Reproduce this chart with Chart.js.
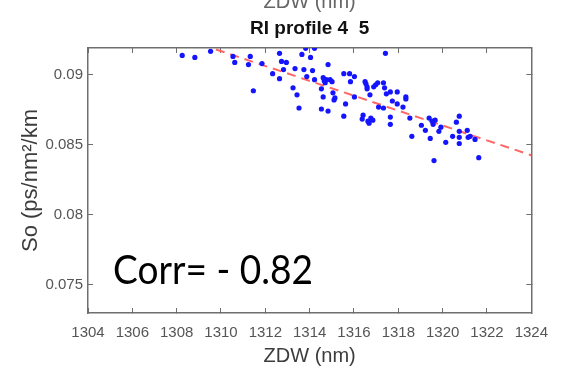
<!DOCTYPE html>
<html lang="en">
<head>
    <meta charset="UTF-8">
    <title>RI profile 4 5</title>
    <script src="https://cdn.jsdelivr.net/npm/chart.js@4.4.1/dist/chart.umd.min.js"></script>
    <style>
        body {
            margin: 0;
            background: #ffffff;
        }
        .chart-box {
            position: relative;
            width: 564px;
            height: 376px;
        }
    </style>
</head>
<body>
    <div class="chart-box">
        <canvas id="soPlot"></canvas>
    </div>

    <script>
        // measured points: zero dispersion wavelength (nm) vs dispersion slope
        const zdwValues = [
            1308.25, 1308.82, 1309.53, 1310.54, 1310.62, 1311.24, 1311.32, 1311.46, 1311.85, 1312.33,
            1312.64, 1312.64, 1312.73, 1312.82, 1312.95, 1313.25, 1313.34, 1313.43, 1313.52, 1313.65,
            1313.74, 1313.82, 1313.87, 1314.04, 1314.13, 1314.22, 1314.22, 1314.53, 1314.53, 1314.61,
            1314.61, 1314.66, 1314.70, 1314.75, 1314.83, 1314.83, 1314.92, 1315.01, 1315.05, 1315.10,
            1315.14, 1315.54, 1315.54, 1315.62, 1315.80, 1315.84, 1316.02, 1316.02, 1316.37, 1316.41,
            1316.50, 1316.54, 1316.59, 1316.59, 1316.63, 1316.68, 1316.72, 1316.76, 1316.85, 1316.89,
            1316.98, 1317.07, 1317.11, 1317.33, 1317.33, 1317.42, 1317.38, 1317.46, 1317.64, 1317.64,
            1317.64, 1317.73, 1317.95, 1317.95, 1318.21, 1318.34, 1318.34, 1318.52, 1318.61, 1319.04,
            1319.22, 1319.39, 1319.44, 1319.53, 1319.57, 1319.66, 1319.61, 1319.83, 1319.92, 1320.14,
            1320.45, 1320.62, 1320.75, 1320.75, 1320.75, 1320.75, 1321.11, 1321.15, 1321.24, 1321.46, 1321.63
        ];
        const soValues = [
            0.09137, 0.09123, 0.09166, 0.0913, 0.09087, 0.09072, 0.0913, 0.08885, 0.09079, 0.09007,
            0.09152, 0.08971, 0.09094, 0.09036, 0.09087, 0.08906, 0.09043, 0.08856, 0.08762, 0.09144,
            0.09036, 0.09188, 0.08986, 0.09123, 0.09029, 0.09188, 0.08964, 0.08755, 0.08899, 0.08841,
            0.08978, 0.08957, 0.08942, 0.08964, 0.09072, 0.0874, 0.08964, 0.0895, 0.0887, 0.0882,
            0.08834, 0.09007, 0.08704, 0.08791, 0.09007, 0.0895, 0.08986, 0.08841, 0.08683, 0.08711,
            0.0895, 0.08935, 0.08913, 0.08899, 0.08668, 0.08654, 0.08856, 0.0869, 0.08675, 0.08913,
            0.08928, 0.08942, 0.08769, 0.08762, 0.08942, 0.09152, 0.08906, 0.08863, 0.08877, 0.08697,
            0.08646, 0.08812, 0.08877, 0.08791, 0.08769, 0.08841, 0.08827, 0.0869, 0.0856, 0.08639,
            0.08603, 0.0869, 0.08545, 0.08668, 0.08646, 0.08675, 0.08387, 0.08596, 0.08625, 0.08517,
            0.0856, 0.08661, 0.08704, 0.08596, 0.08553, 0.08509, 0.08603, 0.08553, 0.0856, 0.08538, 0.08408
        ];

        // linear fit (red dashed), end points
        const fitZdw = [1304, 1324];
        const fitSo = [0.09486, 0.08425];

        const xTicks = [1304, 1306, 1308, 1310, 1312, 1314, 1316, 1318, 1320, 1322, 1324];
        const yTicks = [0.075, 0.08, 0.085, 0.09];

        const titleText = 'RI profile 4  5';
        const corrText = 'Corr= - 0.82';

        const axisGrey = '#6f6f6f';
        const tickFont = { family: "'Liberation Sans Narrow', 'Liberation Sans', sans-serif", size: 15 };

        const points = zdwValues.map((x, i) => ({ x: x, y: soValues[i] }));
        const fitLine = fitZdw.map((x, i) => ({ x: x, y: fitSo[i] }));

        function fixedTicks(list) {
            return scale => { scale.ticks = list.map(v => ({ value: v })); };
        }

        // texts that sit outside the chart.js title/axis slots
        const textPlugin = {
            id: 'texts',
            afterDraw(chart) {
                const ctx = chart.ctx;
                const area = chart.chartArea;
                const cx = (area.left + area.right) / 2;
                ctx.save();
                // label of the panel above, mostly cut off
                ctx.fillStyle = '#666';
                ctx.font = "20px 'Liberation Sans', Arial, sans-serif";
                ctx.textAlign = 'center';
                ctx.textBaseline = 'alphabetic';
                ctx.fillText('ZDW (nm)', cx, 8);
                // title
                ctx.fillStyle = '#111';
                ctx.font = "bold 19px 'Liberation Sans', Arial, sans-serif";
                ctx.fillText(titleText, cx, 34);
                // correlation note
                ctx.fillStyle = '#000';
                ctx.font = "40px Lato, 'Open Sans', sans-serif";
                ctx.textAlign = 'left';
                ctx.fillText(corrText, 113, 284, 200);
                ctx.restore();
            }
        };

        new Chart(document.getElementById('soPlot'), {
            type: 'scatter',
            data: {
                datasets: [
                    {
                        label: 'fit',
                        type: 'line',
                        data: fitLine,
                        borderColor: 'rgba(255, 85, 85, 0.9)',
                        borderWidth: 2,
                        borderDash: [9, 6],
                        pointRadius: 0,
                        clip: 0,
                        order: 1
                    },
                    {
                        label: 'So',
                        data: points,
                        backgroundColor: 'rgb(20, 20, 255)',
                        borderColor: 'rgb(20, 20, 255)',
                        pointRadius: 2.6,
                        borderWidth: 0,
                        clip: 0,
                        order: 0
                    }
                ]
            },
            options: {
                responsive: true,
                maintainAspectRatio: false,
                animation: false,
                layout: { padding: { top: 48, right: 19, left: 0, bottom: 0 } },
                plugins: {
                    legend: { display: false },
                    tooltip: { enabled: false }
                },
                scales: {
                    x: {
                        type: 'linear',
                        position: 'bottom',
                        min: 1304,
                        max: 1324,
                        afterBuildTicks: fixedTicks(xTicks),
                        afterFit: s => { s.height = 63; },
                        border: { display: true, color: axisGrey, width: 1.5 },
                        grid: { drawOnChartArea: false, tickLength: -5, color: axisGrey },
                        ticks: { color: '#555', font: tickFont, padding: 16, maxRotation: 0, callback: v => String(v) },
                        title: {
                            display: true,
                            text: 'ZDW (nm)',
                            color: '#3c3c3c',
                            font: { family: "'Liberation Sans', Arial, sans-serif", size: 20 },
                            padding: 8
                        }
                    },
                    y: {
                        type: 'linear',
                        position: 'left',
                        min: 0.073,
                        max: 0.0919,
                        afterBuildTicks: fixedTicks(yTicks),
                        afterFit: s => { s.width = 88; },
                        border: { display: true, color: axisGrey, width: 1.5 },
                        grid: { drawOnChartArea: false, tickLength: -5, color: axisGrey },
                        ticks: { color: '#555', font: tickFont, padding: 10, callback: v => String(v) },
                        title: {
                            display: true,
                            text: 'So (ps/nm\u00b2/km',
                            color: '#3c3c3c',
                            font: { family: "'Liberation Sans', Arial, sans-serif", size: 22 },
                            padding: 18
                        }
                    },
                    xTop: {
                        type: 'linear',
                        position: 'top',
                        min: 1304,
                        max: 1324,
                        afterBuildTicks: fixedTicks(xTicks),
                        afterFit: s => { s.height = 0; },
                        border: { display: true, color: axisGrey, width: 1.5 },
                        grid: { drawOnChartArea: false, tickLength: -5, color: axisGrey },
                        ticks: { display: false }
                    },
                    yRight: {
                        type: 'linear',
                        position: 'right',
                        min: 0.073,
                        max: 0.0919,
                        afterBuildTicks: fixedTicks(yTicks),
                        afterFit: s => { s.width = 0; },
                        border: { display: true, color: axisGrey, width: 1.5 },
                        grid: { drawOnChartArea: false, tickLength: -5, color: axisGrey },
                        ticks: { display: false }
                    }
                }
            },
            plugins: [textPlugin]
        });
    </script>
</body>
</html>
